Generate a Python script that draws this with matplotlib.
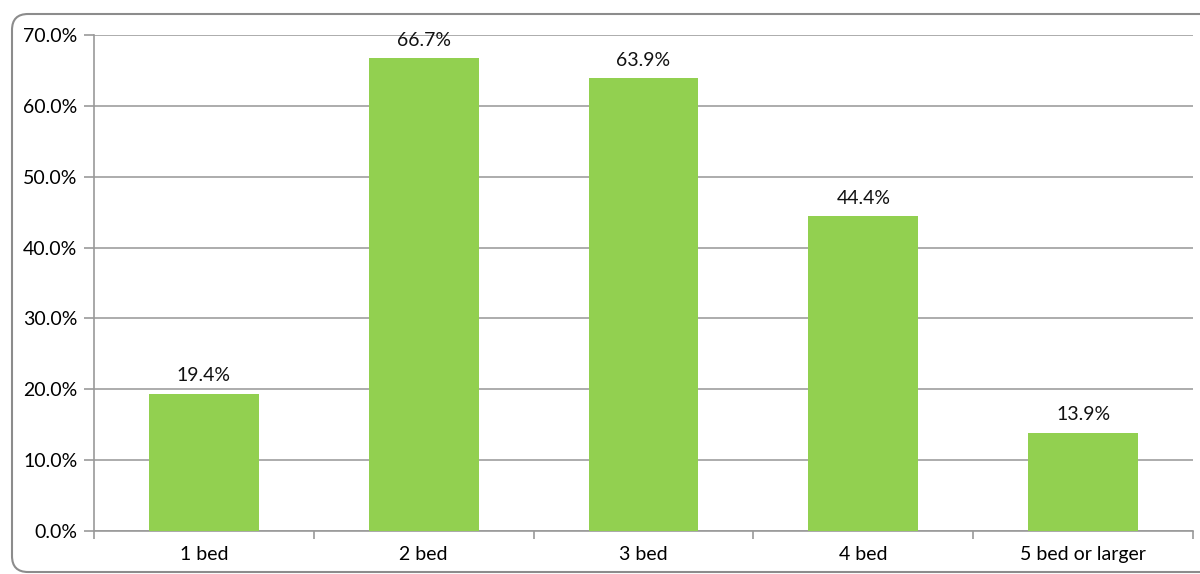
import numpy as np
import matplotlib.pyplot as plt
from matplotlib.patches import FancyBboxPatch

categories = ["1 bed", "2 bed", "3 bed", "4 bed", "5 bed or larger"]
values = [19.4, 66.7, 63.9, 44.4, 13.9]
yticks = [0, 10, 20, 30, 40, 50, 60, 70]

plt.rcParams['font.family'] = ['Lato', 'DejaVu Sans']

fig = plt.figure(figsize=(12, 5.74), dpi=100)
ax = fig.add_axes([94/1200, 43/574, 1099/1200, 496/574])

# rounded frame around the chart, in pixels (right side runs off the image)
frame = FancyBboxPatch((12, 2), 1220, 558,
                       boxstyle="round,pad=0,rounding_size=16",
                       transform=None, fill=False,
                       edgecolor="#8c8c8c", linewidth=1.5, clip_on=False)
fig.patches.append(frame)

x = np.arange(len(categories))
ax.bar(x, values, width=0.5, color="#92D050", zorder=3)
for xi, v in zip(x, values):
    ax.text(xi, v + 1.3, "{:.1f}%".format(v), ha="center", va="bottom",
            fontsize=14, color="#111111")

ax.set_xlim(-0.5, len(categories) - 0.5)
ax.set_ylim(0, 70)
ax.set_yticks(yticks)
ax.set_yticklabels(["{:.1f}%".format(t) for t in yticks], fontsize=14, color="#000000")
ax.set_xticks(x)
ax.set_xticklabels(categories, fontsize=14, color="#000000")
ax.tick_params(axis="x", length=0, pad=11)
ax.tick_params(axis="y", length=7, width=1.2, color="#999999", pad=5)
# category boundary ticks
ax.set_xticks(np.arange(-0.5, len(categories)), minor=True)
ax.tick_params(axis="x", which="minor", length=6, width=1.2, color="#999999")

ax.grid(axis="y", color="#a6a6a6", linewidth=1.3, zorder=0)
for s in ["top", "right"]:
    ax.spines[s].set_visible(False)
ax.spines["left"].set_color("#999999")
ax.spines["bottom"].set_color("#999999")
ax.spines["left"].set_linewidth(1.2)
ax.spines["bottom"].set_linewidth(1.2)

fig.savefig("out.png", dpi=100)
